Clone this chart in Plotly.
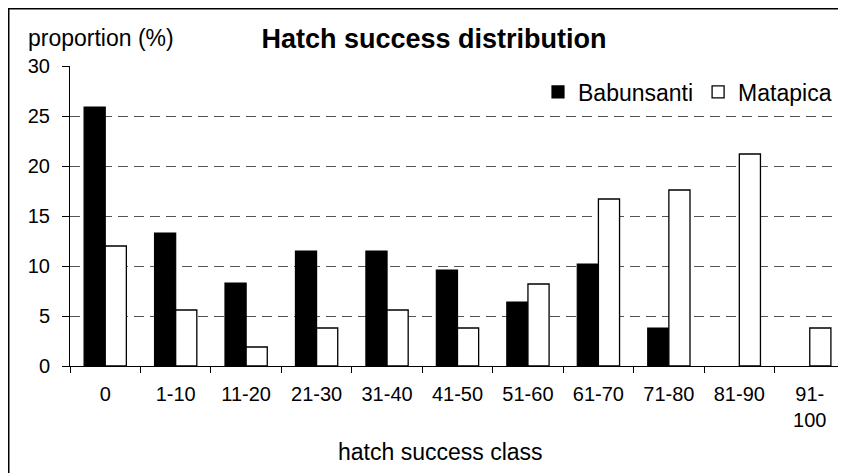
import plotly.graph_objects as go

categories = ["0", "1-10", "11-20", "21-30", "31-40", "41-50", "51-60", "61-70", "71-80", "81-90", "91-<br>100"]
babunsanti = [25.9, 13.3, 8.3, 11.5, 11.5, 9.6, 6.4, 10.2, 3.8, 0, 0]
matapica = [12.0, 5.6, 1.9, 3.8, 5.6, 3.8, 8.2, 16.7, 17.6, 21.2, 3.8]
y_ticks = [0, 5, 10, 15, 20, 25, 30]

# page is rendered with an 8px body margin
OFF = 8
W, H = 846 - OFF, 473 - OFF
PL, PR, PT, PB = 70, 845, 66, 366  # plot area in page pixels
L, R, T, B = PL - OFF, W - (PR - OFF), PT - OFF, H - (PB - OFF)
pw, ph = PR - PL, PB - PT
FONT = "Liberation Sans, Arial, sans-serif"


def px(x):
    return (x - PL) / pw


def py(y):
    return (PB - y) / ph


def outline(vals, w):
    return [0 if v == 0 else w for v in vals]


fig = go.Figure()
fig.add_trace(go.Bar(x=categories, y=babunsanti, name="Babunsanti",
                     marker=dict(color="black",
                                 line=dict(color="black", width=outline(babunsanti, 1.2)))))
fig.add_trace(go.Bar(x=categories, y=matapica, name="Matapica",
                     marker=dict(color="white",
                                 line=dict(color="black", width=outline(matapica, 1.3)))))

fig.update_layout(
    width=W, height=H,
    margin=dict(l=L, r=R, t=T, b=B),
    paper_bgcolor="white", plot_bgcolor="white",
    barmode="group", bargap=0.4, bargroupgap=0,
    font=dict(family=FONT, size=20, color="black"),
    title=dict(text="<b>Hatch success distribution</b>", x=(434 - OFF) / W, xanchor="center",
               y=1 - (39 - OFF) / H, yanchor="middle", yref="container",
               font=dict(size=27, family=FONT, color="black")),
    legend=dict(orientation="h", x=px(837), xanchor="right", y=py(92), yanchor="middle",
                bgcolor="rgba(0,0,0,0)", font=dict(size=23, family=FONT),
                itemwidth=30, traceorder="normal"),
    showlegend=True,
    xaxis=dict(showline=True, linecolor="black", linewidth=1, ticks="outside",
               tickson="boundaries", ticklen=6, tickcolor="black", tickwidth=1,
               showgrid=False, tickfont=dict(size=20), ticklabelstandoff=10,
               fixedrange=True),
    yaxis=dict(range=[0, 30], tickvals=y_ticks, showline=True, linecolor="black", linewidth=1,
               ticks="outside", ticklen=7, tickcolor="black", tickwidth=1,
               showgrid=True, gridcolor="#555555", gridwidth=1, griddash="10px,6px",
               zeroline=False, tickfont=dict(size=20), ticklabelstandoff=8),
    yaxis2=dict(range=[0, 30], tickvals=y_ticks, overlaying="y", anchor="x", side="left",
                ticks="inside", ticklen=7, tickcolor="black", showticklabels=False,
                showgrid=False, zeroline=False, showline=False),
    annotations=[
        dict(text="proportion (%)", xref="paper", yref="paper", x=px(26), y=py(38),
             xanchor="left", yanchor="middle", showarrow=False,
             font=dict(size=23, family=FONT)),
        dict(text="hatch success class", xref="paper", yref="paper", x=px(440), y=py(452),
             xanchor="center", yanchor="middle", showarrow=False,
             font=dict(size=23, family=FONT)),
    ],
    shapes=[
        dict(type="rect", xref="paper", yref="paper", x0=px(8.75), x1=px(900),
             y0=py(520), y1=py(8.75), line=dict(color="black", width=1.5),
             fillcolor="rgba(0,0,0,0)", layer="above"),
    ],
)

fig.write_html("out.html")
